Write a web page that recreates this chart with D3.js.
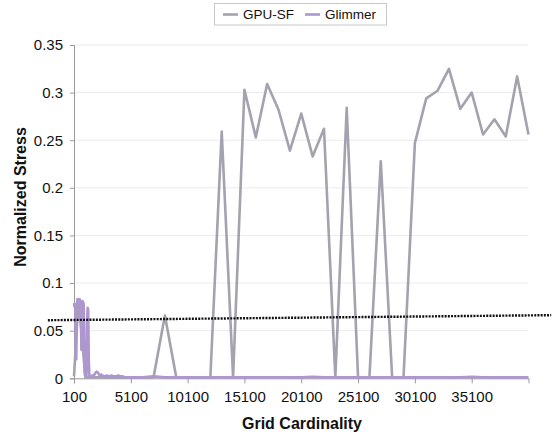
<!DOCTYPE html>
<html>
<head>
<meta charset="utf-8">
<script src="https://cdn.jsdelivr.net/npm/d3@7"></script>
<style>
  body { margin: 0; background: #fff; }
  svg { display: block; font-family: "Liberation Sans", Arial, sans-serif; }
</style>
</head>
<body>
<svg id="chart" width="553" height="436"></svg>
<script>
// data
var gpuX = [100, 500, 1100, 2100, 3100, 4100, 5100, 6100, 7100, 8100, 9100, 10100,
  11100, 12100, 13100, 14100, 15100, 16100, 17100, 18100, 19100, 20100, 21100,
  22100, 23100, 24100, 25100, 26100, 27100, 28100, 29100, 30100, 31100, 32100,
  33100, 34100, 35100, 36100, 37100, 38100, 39100, 40100];
var gpuY = [0.002, 0.083, 0.001, 0.001, 0.001, 0.001, 0.001, 0.001, 0.001, 0.066, 0.001, 0.001,
  0.001, 0.001, 0.259, 0.001, 0.303, 0.253, 0.309, 0.282, 0.239, 0.278, 0.233,
  0.262, 0.001, 0.284, 0.001, 0.001, 0.228, 0.001, 0.001, 0.247, 0.294, 0.302,
  0.325, 0.283, 0.300, 0.256, 0.272, 0.254, 0.317, 0.256];

var glimX = [100, 150, 200, 250, 300, 350, 400, 450, 500, 550, 600, 650, 700, 750,
  800, 850, 900, 950, 1000, 1050, 1100, 1150, 1200, 1250, 1300, 1350, 1400, 1450,
  1500, 1600, 1700, 1800, 1900, 2000, 2100, 2200, 2300, 2400, 2500, 2600,
  2800, 3000, 3200, 3400, 3600, 3800, 4000, 4200, 4400, 4600, 5100, 6100, 7100,
  8100, 9100, 10100, 11100, 12100, 13100, 14100, 15100, 16100, 17100, 18100,
  19100, 20100, 21100, 22100, 23100, 24100, 25100, 26100, 27100, 28100, 29100,
  30100, 31100, 32100, 33100, 34100, 35100, 36100, 37100, 38100, 39100, 40100];
var glimY = [0.079, 0.075, 0.078, 0.05, 0.02, 0.07, 0.083, 0.081, 0.083, 0.079, 0.083, 0.08, 0.078, 0.03,
  0.075, 0.081, 0.08, 0.078, 0.04, 0.005, 0.003, 0.004, 0.003, 0.06, 0.074, 0.072, 0.02, 0.003,
  0.002, 0.002, 0.003, 0.002, 0.004, 0.006, 0.007, 0.006, 0.004, 0.003, 0.004, 0.003,
  0.002, 0.003, 0.002, 0.003, 0.002, 0.002, 0.003, 0.002, 0.002, 0.001, 0.001, 0.001, 0.002,
  0.001, 0.001, 0.001, 0.001, 0.001, 0.001, 0.001, 0.001, 0.001, 0.001, 0.001,
  0.001, 0.001, 0.0015, 0.001, 0.001, 0.001, 0.001, 0.001, 0.001, 0.001, 0.001,
  0.001, 0.001, 0.001, 0.001, 0.001, 0.0015, 0.001, 0.001, 0.001, 0.001, 0.001];

// dotted trend line end points
var trendX = [-2200, 42100];
var trendY = [0.061, 0.0663];

var xTicks = [100, 5100, 10100, 15100, 20100, 25100, 30100, 35100];
var yTicks = [0, 0.05, 0.1, 0.15, 0.2, 0.25, 0.3, 0.35];

var svg = d3.select("#chart");
var plotL = 74, plotR = 528.5, plotT = 45, plotB = 378.3;

var x = d3.scaleLinear().domain([100, 40100]).range([plotL, plotR]);
var y = d3.scaleLinear().domain([0, 0.35]).range([plotB, plotT]);

// gridlines
svg.append("g")
  .selectAll("line")
  .data(yTicks.slice(1))
  .enter().append("line")
    .attr("x1", plotL).attr("x2", plotR)
    .attr("y1", function(d) { return y(d); })
    .attr("y2", function(d) { return y(d); })
    .attr("stroke", "#ebebeb")
    .attr("stroke-width", 1);

// y axis
var yAxis = svg.append("g")
  .attr("transform", "translate(" + plotL + ",0)")
  .call(d3.axisLeft(y).tickValues(yTicks).tickSize(4).tickPadding(7)
    .tickFormat(function(d) { return String(+d.toFixed(2)); }));
yAxis.select(".domain").attr("stroke", "#999");
yAxis.selectAll(".tick line").attr("stroke", "#999");
yAxis.selectAll("text").style("font-size", "15px").attr("fill", "#111");

// x axis
var xAxis = svg.append("g")
  .attr("transform", "translate(0," + plotB + ")")
  .call(d3.axisBottom(x).tickValues(xTicks).tickSize(5).tickPadding(8)
    .tickFormat(function(d) { return String(d); }));
xAxis.select(".domain").attr("stroke", "#999");
xAxis.selectAll(".tick line").attr("stroke", "#999");
xAxis.selectAll("text").style("font-size", "15px").attr("fill", "#111");

var gpuData = gpuX.map(function(v, i) { return [v, gpuY[i]]; });
var glimData = glimX.map(function(v, i) { return [v, glimY[i]]; });

var line = d3.line()
  .x(function(d) { return x(d[0]); })
  .y(function(d) { return y(d[1]); });

svg.append("path")
  .datum(gpuData)
  .attr("d", line)
  .attr("fill", "none")
  .attr("stroke", "#a3a2af")
  .attr("stroke-width", 2.6)
  .attr("stroke-linejoin", "round");

svg.append("path")
  .datum(glimData)
  .attr("d", line)
  .attr("fill", "none")
  .attr("stroke", "#ae96cf")
  .attr("stroke-width", 2.6)
  .attr("stroke-linejoin", "round");

// trend line
svg.append("line")
  .attr("x1", x(trendX[0])).attr("y1", y(trendY[0]))
  .attr("x2", x(trendX[1])).attr("y2", y(trendY[1]))
  .attr("stroke", "#111")
  .attr("stroke-width", 2.4)
  .attr("stroke-dasharray", "2,1.2");

// axis titles
svg.append("text")
  .attr("x", 302).attr("y", 429)
  .attr("text-anchor", "middle")
  .style("font-size", "16px").style("font-weight", "bold")
  .attr("fill", "#111")
  .text("Grid Cardinality");

svg.append("text")
  .attr("transform", "translate(26,197) rotate(-90)")
  .attr("text-anchor", "middle")
  .style("font-size", "16px").style("font-weight", "bold")
  .attr("fill", "#111")
  .text("Normalized Stress");

// legend
var legend = svg.append("g");
legend.append("rect")
  .attr("x", 214.5).attr("y", 3.5).attr("width", 172).attr("height", 21.5)
  .attr("fill", "#fff").attr("stroke", "#c8c8c8");
var items = [["GPU-SF", "#a3a2af", 223], ["Glimmer", "#ae96cf", 305]];
items.forEach(function(it) {
  legend.append("line")
    .attr("x1", it[2]).attr("x2", it[2] + 15)
    .attr("y1", 14.5).attr("y2", 14.5)
    .attr("stroke", it[1]).attr("stroke-width", 2.6);
  legend.append("text")
    .attr("x", it[2] + 20).attr("y", 19.3)
    .style("font-size", "13.5px")
    .attr("fill", "#111")
    .text(it[0]);
});
</script>
</body>
</html>
